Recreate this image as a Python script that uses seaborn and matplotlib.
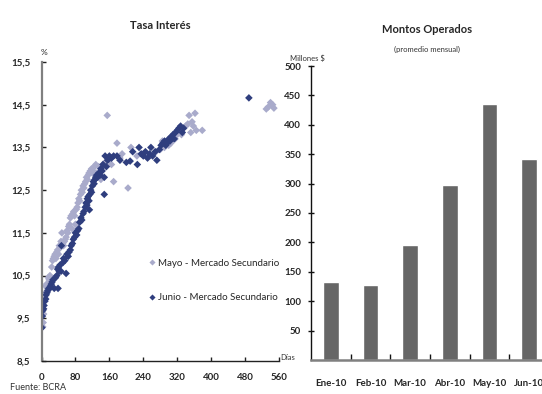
import matplotlib
matplotlib.use("Agg")
import matplotlib.pyplot as plt
import seaborn as sns
import pandas as pd

# --- Tasa de interés (plazo en días vs. tasa %) ---
mayo_dias = [3, 4, 5, 6, 8, 9, 10, 12, 14, 16, 18, 20, 22, 24, 26, 28, 30, 32, 34, 36,
             38, 40, 42, 44, 46, 48, 50, 52, 54, 56, 58, 60, 62, 64, 66, 68, 70, 72, 74, 76,
             78, 80, 82, 84, 86, 88, 90, 92, 94, 96, 98, 100, 102, 104, 106, 108, 110, 112,
             115, 118, 120, 122, 125, 128, 130, 135, 140, 145, 150, 155, 160, 165, 170, 178,
             185, 190, 204, 211, 225, 240, 255, 270, 280, 285, 290, 295, 300, 305, 310, 315,
             320, 325, 330, 335, 340, 345, 348, 352, 355, 358, 362, 365, 379, 530, 535, 540,
             545, 548]
mayo_tasa = [9.30, 9.40, 9.60, 9.90, 10.00, 10.10, 10.25, 10.30, 10.20, 10.45, 10.40, 10.50,
             10.45, 10.70, 10.85, 10.90, 10.95, 11.00, 10.90, 11.05, 11.10, 11.00, 11.20, 11.15,
             11.30, 11.50, 11.25, 11.20, 11.30, 11.35, 11.40, 11.55, 11.50, 11.65, 11.70, 11.85,
             11.90, 11.60, 11.95, 12.00, 11.90, 11.70, 12.05, 12.10, 12.20, 12.30, 12.25, 12.40,
             12.50, 12.45, 12.60, 12.55, 12.65, 12.70, 12.80, 12.75, 12.85, 12.90, 12.95, 13.00,
             12.90, 12.95, 13.05, 13.10, 12.90, 13.05, 12.75, 13.10, 13.15, 14.25, 13.20, 13.10,
             12.70, 13.60, 13.25, 13.35, 12.55, 13.50, 13.30, 13.35, 13.30, 13.40, 13.45, 13.65,
             13.50, 13.60, 13.55, 13.60, 13.75, 13.70, 13.80, 13.85, 13.80, 13.95, 14.00, 14.05,
             14.25, 13.85, 14.10, 14.00, 14.30, 13.90, 13.90, 14.40, 14.45, 14.55, 14.50, 14.42]

junio_dias = [1, 2, 3, 5, 6, 8, 10, 11, 13, 15, 17, 19, 21, 23, 25, 27, 30, 33, 36, 38,
              39, 40, 42, 44, 46, 47, 50, 52, 55, 58, 60, 63, 65, 68, 70, 73, 75, 78, 80, 83,
              85, 88, 90, 93, 95, 98, 100, 103, 105, 107, 108, 110, 112, 113, 114, 116, 118,
              120, 122, 124, 126, 128, 130, 132, 135, 138, 140, 143, 145, 148, 148, 150, 153,
              156, 160, 165, 170, 178, 185, 200, 209, 215, 226, 230, 235, 240, 245, 250, 255,
              258, 262, 268, 272, 278, 282, 286, 290, 293, 296, 300, 303, 306, 310, 313, 316,
              320, 324, 328, 332, 335, 489]
junio_tasa = [9.28, 9.55, 9.68, 9.72, 9.80, 9.90, 9.95, 10.05, 10.10, 10.15, 10.20, 10.20,
              10.25, 10.30, 10.35, 10.40, 10.20, 10.45, 10.50, 10.65, 10.20, 10.70, 10.60, 10.75,
              10.60, 11.20, 10.80, 10.90, 10.85, 10.55, 11.00, 10.95, 11.05, 11.10, 11.20, 11.25,
              11.35, 11.40, 11.50, 11.45, 11.55, 11.60, 11.75, 11.85, 11.80, 11.95, 12.00, 12.10,
              12.20, 12.15, 12.30, 12.35, 12.25, 12.04, 12.40, 12.50, 12.45, 12.60, 12.70, 12.65,
              12.75, 12.80, 12.85, 12.80, 12.90, 12.85, 13.00, 12.95, 13.10, 12.80, 12.40, 13.30,
              13.05, 13.20, 13.30, 13.25, 13.30, 13.30, 13.20, 13.15, 13.18, 13.40, 13.10, 13.50,
              13.35, 13.30, 13.40, 13.25, 13.35, 13.50, 13.30, 13.40, 13.20, 13.45, 13.55, 13.60,
              13.65, 13.55, 13.60, 13.70, 13.65, 13.75, 13.80, 13.70, 13.85, 13.90, 13.95, 14.00,
              13.85, 13.95, 14.66]

serie_mayo = "Mayo - Mercado Secundario"
serie_junio = "Junio - Mercado Secundario"

tasa_yticks = [8.5, 9.5, 10.5, 11.5, 12.5, 13.5, 14.5, 15.5]
tasa_ylabels = ["8,5", "9,5", "10,5", "11,5", "12,5", "13,5", "14,5", "15,5"]
tasa_xticks = [0, 80, 160, 240, 320, 400, 480, 560]

# --- Montos operados (promedio mensual, millones $) ---
meses = ["Ene-10", "Feb-10", "Mar-10", "Abr-10", "May-10", "Jun-10"]
montos = [133, 128, 196, 298, 436, 342]
montos_yticks = [50, 100, 150, 200, 250, 300, 350, 400, 450, 500]

col_mayo = "#A9ABCB"
col_junio = "#2F3E7E"
col_barra = "#666666"

sns.set_theme(style="white")
plt.rcParams["font.family"] = ["Lato", "DejaVu Sans"]

fig = plt.figure(figsize=(5.42, 3.94), dpi=100)
ax1 = fig.add_axes([41.5 / 542, 1 - 361 / 394, 237.5 / 542, 299 / 394])
ax2 = fig.add_axes([311 / 542, 1 - 360 / 394, 238 / 542, 294 / 394])

df = pd.DataFrame({
    "dias": mayo_dias + junio_dias,
    "tasa": mayo_tasa + junio_tasa,
    "serie": [serie_mayo] * len(mayo_dias) + [serie_junio] * len(junio_dias),
})
sns.scatterplot(data=df, x="dias", y="tasa", hue="serie",
                palette={serie_mayo: col_mayo, serie_junio: col_junio},
                marker="D", s=15, linewidth=0, ax=ax1, legend=True)

ax1.set_xlim(0, 560)
ax1.set_ylim(8.5, 15.5)
ax1.set_xticks(tasa_xticks)
ax1.set_xticklabels([str(t) for t in tasa_xticks], fontsize=7, fontweight="bold")
ax1.set_yticks(tasa_yticks)
ax1.set_yticklabels(tasa_ylabels, fontsize=7, fontweight="bold")
ax1.set_xlabel("")
ax1.set_ylabel("")
for side in ("top", "right"):
    ax1.spines[side].set_visible(False)
ax1.spines["left"].set_color("#808080")
ax1.spines["left"].set_linewidth(1.6)
ax1.spines["bottom"].set_color("#222222")
ax1.spines["bottom"].set_linewidth(1.0)
ax1.tick_params(axis="both", direction="in", length=3, width=1, color="#222222",
                left=True, bottom=True, pad=8)
ax1.tick_params(axis="x", pad=9)
ax1.set_title("Tasa Interés", fontsize=8, fontweight="bold", pad=24)
ax1.text(-1, 15.72, "%", fontsize=6, ha="left", va="center")
ax1.text(1.005, 0.012, "Días", transform=ax1.transAxes, fontsize=5.5,
         ha="left", va="center", color="#333333")

handles, labels = ax1.get_legend_handles_labels()
leg = ax1.legend(handles, labels, loc="upper left", bbox_to_anchor=(0.43, 0.355),
                 frameon=False, fontsize=7, labelspacing=2.6, handletextpad=0.1,
                 handlelength=1.0, borderaxespad=0, markerscale=0.8)

# Barras de montos operados
dfm = pd.DataFrame({"mes": meses, "monto": montos})
sns.barplot(data=dfm, x="mes", y="monto", color=col_barra, saturation=1,
            width=0.4, ax=ax2)
ax2.set_xlim(-0.5, 5.5)
ax2.set_ylim(0, 500)
ax2.set_yticks(montos_yticks)
ax2.set_yticklabels([str(v) for v in montos_yticks], fontsize=7, fontweight="bold")
ax2.set_xticks(range(len(meses)))
ax2.set_xticklabels(meses, fontsize=7, fontweight="bold")
ax2.set_xlabel("")
ax2.set_ylabel("")
for side in ("top", "right"):
    ax2.spines[side].set_visible(False)
ax2.spines["left"].set_color("#111111")
ax2.spines["left"].set_linewidth(1.0)
ax2.spines["bottom"].set_color("#808080")
ax2.spines["bottom"].set_linewidth(1.8)
ax2.tick_params(axis="y", direction="inout", length=4, width=1, color="#111111",
                left=True, pad=5)
ax2.tick_params(axis="x", length=0, pad=14)
# marcas entre categorías
ax2.set_xticks([0.5, 1.5, 2.5, 3.5, 4.5], minor=True)
ax2.tick_params(axis="x", which="minor", direction="in", length=4, width=1,
                color="#111111", bottom=True)
ax2.set_title("Montos Operados", fontsize=8, fontweight="bold", pad=24,
              x=(427 - 311) / 238)
ax2.text((427 - 311) / 238, 1.058, "(promedio mensual)", transform=ax2.transAxes,
         fontsize=5.5, ha="center", va="center", color="#333333")
ax2.text(-0.09, 1.025, "Millones $", transform=ax2.transAxes, fontsize=5.5,
         ha="left", va="center", color="#333333")

fig.text(10 / 542, 1 - 387 / 394, "Fuente: BCRA", fontsize=6.5, ha="left", va="center",
         color="#333333")

fig.savefig("out.png", dpi=100)
